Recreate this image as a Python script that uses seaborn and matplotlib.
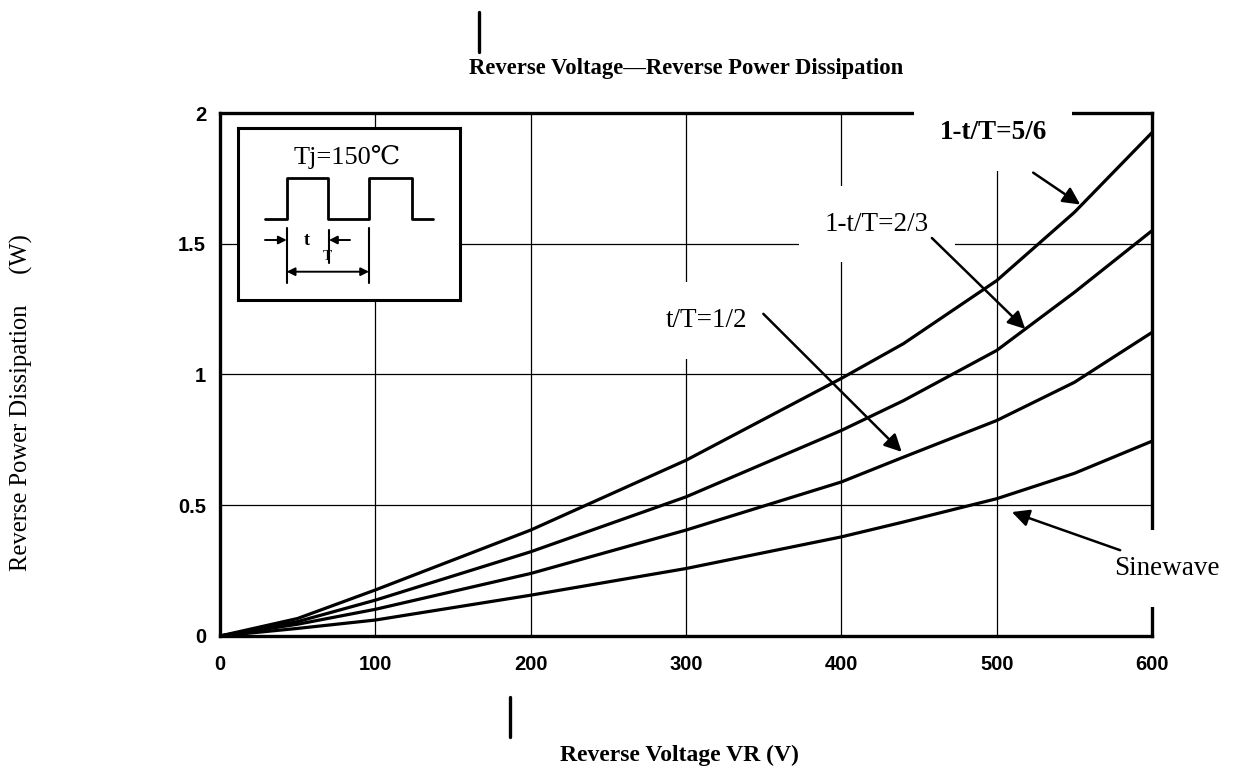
import matplotlib
matplotlib.use('Agg')
import matplotlib.pyplot as plt
from matplotlib.lines import Line2D
import numpy as np
import pandas as pd
import seaborn as sns

# reverse voltage (V) and power dissipation (W)
voltage = [0, 50, 100, 200, 300, 400, 440, 500, 550, 600]
p_56 = [0, 0.067, 0.176, 0.405, 0.672, 0.985, 1.118, 1.359, 1.62, 1.925]
p_23 = [0, 0.055, 0.137, 0.322, 0.532, 0.786, 0.90, 1.092, 1.314, 1.55]
p_12 = [0, 0.045, 0.102, 0.239, 0.405, 0.589, 0.684, 0.824, 0.97, 1.161]
p_sine = [0, 0.029, 0.061, 0.156, 0.258, 0.379, 0.436, 0.525, 0.622, 0.745]
curve_names = ['1-t/T=5/6', '1-t/T=2/3', 't/T=1/2', 'Sinewave']

x_ticks = [0, 100, 200, 300, 400, 500, 600]
y_ticks = [0, 0.5, 1, 1.5, 2]
y_tick_labels = ['0', '0.5', '1', '1.5', '2']

# label text position, arrow tail, arrow tip (data units)
label_pos = [(497.7, 1.924), (422.8, 1.575), (313.4, 1.206), (609.6, 0.258)]
arrow_tail = [(523.5, 1.772), (458.3, 1.522), (349.8, 1.232), (579.5, 0.328)]
arrow_tip = [(553.8, 1.65), (518.4, 1.174), (438.9, 0.704), (509.8, 0.474)]

# inset pulse sketch (inset pixel units)
wave_x = [27, 48.7, 48.7, 90, 90, 131, 131, 173.7, 173.7, 194.7]
wave_y = [91, 91, 50, 50, 91, 91, 50, 50, 91, 91]

SERIF = ['Liberation Serif', 'DejaVu Serif', 'DejaVu Sans']

df = pd.DataFrame({
    'V': voltage * 4,
    'P': p_56 + p_23 + p_12 + p_sine,
    'curve': np.repeat(curve_names, len(voltage)),
})

sns.set_theme(style='white')
plt.rcParams['font.family'] = ['Liberation Sans', 'DejaVu Sans']
plt.rcParams['text.color'] = 'black'
plt.rcParams['xtick.color'] = 'black'
plt.rcParams['ytick.color'] = 'black'

fig = plt.figure(figsize=(12.35, 7.74), dpi=100)
ax = fig.add_axes([0.1781, 0.1783, 0.7547, 0.6757])

sns.lineplot(data=df, x='V', y='P', hue='curve', palette=['black'] * 4,
             legend=False, linewidth=2.3, sort=False, ax=ax, zorder=4)

ax.set_xlim(0, 600)
ax.set_ylim(0, 2)
ax.set_xticks(x_ticks)
ax.set_yticks(y_ticks)
ax.set_yticklabels(y_tick_labels)
ax.tick_params(axis='x', direction='in', length=4, width=1.2, pad=14,
               labelsize=14.5, colors='black')
ax.tick_params(axis='y', direction='in', length=4, width=1.2, pad=10,
               labelsize=14.5, colors='black')
for lab in ax.get_xticklabels() + ax.get_yticklabels():
    lab.set_fontweight('bold')
ax.grid(True, color='black', linewidth=0.9)
for sp in ax.spines.values():
    sp.set_color('black')
    sp.set_linewidth(2.4)
ax.set_xlabel('')
ax.set_ylabel('')

# curve labels (white box hides grid behind them like in the scan)
for i, name in enumerate(curve_names):
    ax.text(label_pos[i][0], label_pos[i][1], name, family=SERIF,
            fontsize=19.5, fontweight='bold' if i == 0 else 'normal',
            ha='center', va='center', zorder=3, clip_on=False,
            bbox=dict(boxstyle='square,pad=0.95', fc='white', ec='none'))
    ax.annotate('', xy=arrow_tip[i], xytext=arrow_tail[i], zorder=5,
                annotation_clip=False,
                arrowprops=dict(arrowstyle='-|>', color='black', lw=1.8,
                                mutation_scale=26, shrinkA=0, shrinkB=0))

# inset with the pulse waveform
ins = fig.add_axes([0.1927, 0.6124, 0.1798, 0.2222], zorder=3)
ins.set_facecolor('white')
ins.set_xlim(0, 222)
ins.set_ylim(172, 0)
ins.set_xticks([])
ins.set_yticks([])
for sp in ins.spines.values():
    sp.set_color('black')
    sp.set_linewidth(2.2)
ins.plot(wave_x, wave_y, color='black', lw=2.0)
ins.text(108.7, 28.7, 'Tj=150℃', family=SERIF, fontsize=19,
         ha='center', va='center')
for xv, y0, y1 in [(48.7, 100, 155), (90.5, 102, 135), (131, 100, 155)]:
    ins.plot([xv, xv], [y0, y1], color='black', lw=1.5)
arrow_kw = dict(arrowstyle='-|>', color='black', lw=1.4, mutation_scale=12,
                shrinkA=0, shrinkB=0)
ins.annotate('', xy=(48.7, 112), xytext=(27, 112), arrowprops=arrow_kw)
ins.annotate('', xy=(91, 112), xytext=(112, 112), arrowprops=arrow_kw)
ins.annotate('', xy=(131, 143.7), xytext=(48.7, 143.7),
             arrowprops=dict(arrowstyle='<|-|>', color='black', lw=1.4,
                             mutation_scale=12, shrinkA=0, shrinkB=0))
ins.text(69, 112, 't', family=SERIF, fontsize=13, fontweight='bold',
         ha='center', va='center')
ins.text(89.7, 128, 'T', family=SERIF, fontsize=11, ha='center', va='center')

# titles and labels
fig.text(0.5555, 0.911, 'Reverse Voltage\u2014Reverse Power Dissipation',
         family=SERIF, fontsize=16.3, fontweight='bold', ha='center', va='center')
fig.text(0.55, 0.0245, 'Reverse Voltage VR (V)', family=SERIF, fontsize=17,
         fontweight='bold', ha='center', va='center')
fig.text(0.0176, 0.48, 'Reverse Power Dissipation     (W)', family=SERIF,
         fontsize=17.7, rotation=90, ha='center', va='center')

# stray marks in the scanned datasheet
fig.add_artist(Line2D([479 / 1235, 479 / 1235], [1 - 12 / 774, 1 - 52 / 774],
                      color='black', lw=2.4))
fig.add_artist(Line2D([510 / 1235, 510 / 1235], [1 - 697 / 774, 1 - 737 / 774],
                      color='black', lw=2.4))

fig.savefig('out.png', dpi=100, facecolor='white')
